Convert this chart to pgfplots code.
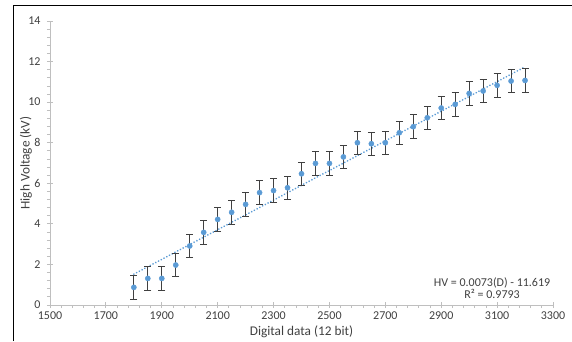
\documentclass[border=0pt]{standalone}
\usepackage{fontspec}
\setmainfont{Carlito}
\usepackage{pgfplots}
\usepackage{pgfplotstable}
\pgfplotsset{compat=1.18}
\definecolor{ptblue}{HTML}{5B9BD5}
\definecolor{axgray}{HTML}{BFBFBF}
\definecolor{lblgray}{HTML}{404040}
\definecolor{errgray}{HTML}{404040}
\pgfplotstableread{
x y e
1800 0.87 0.58
1850 1.31 0.58
1900 1.31 0.58
1950 1.97 0.58
2000 2.91 0.58
2050 3.58 0.58
2100 4.22 0.58
2150 4.57 0.58
2200 4.96 0.58
2250 5.54 0.58
2300 5.64 0.58
2350 5.78 0.58
2400 6.47 0.58
2450 6.98 0.58
2500 6.98 0.58
2550 7.30 0.58
2600 8.00 0.58
2650 7.95 0.58
2700 8.00 0.58
2750 8.49 0.58
2800 8.79 0.58
2850 9.23 0.58
2900 9.71 0.58
2950 9.89 0.58
3000 10.43 0.58
3050 10.55 0.58
3100 10.83 0.58
3150 11.04 0.58
3200 11.07 0.58
}\hvdata
\begin{document}
\begin{tikzpicture}
\useasboundingbox (0pt,0pt) rectangle (572pt,341pt);
\draw[black, line width=1pt] (13pt,0pt) -- (13pt,335.5pt) -- (572pt,335.5pt);
\begin{axis}[
  at={(50pt,36pt)}, anchor=south west,
  scale only axis, width=503pt, height=284pt,
  xmin=1500, xmax=3300, ymin=0, ymax=14,
  xtick={1500,1700,...,3300}, ytick={0,2,...,14},
  minor tick num=4,
  axis lines=left, axis line style={-, draw=axgray, line width=0.8pt},
  tick style={axgray, line width=0.8pt},
  tick align=center, major tick length=6pt, minor tick length=3pt,
  minor y tick style={xshift=-1.5pt}, minor x tick style={yshift=-1.5pt},
  /pgf/number format/assume math mode=true,
  /pgf/number format/1000 sep={},
  ticklabel style={font=\fontsize{12}{14}\selectfont, text=lblgray},
  xticklabel style={yshift=-3pt, inner sep=1pt},
  yticklabel style={xshift=-3pt},
  label style={font=\fontsize{13.3}{15}\selectfont, text=lblgray},
  xlabel={Digital data (12 bit)},
  ylabel={High Voltage (kV)},
  xlabel style={at={(axis description cs:0.5,-0.094)}, anchor=center, inner sep=1pt},
  ylabel style={at={(axis description cs:-0.0477,0.5)}, anchor=center},
  clip=false,
]
\addplot[ptblue, line width=1.8pt, line cap=round, dash pattern=on 0.1pt off 3pt] coordinates {(1800,1.521) (3200,11.741)};
\addplot[only marks, mark=*, mark size=2.6pt, color=ptblue, mark options={fill=ptblue, draw=ptblue},
  error bars/.cd, y dir=both, y explicit,
  error bar style={errgray, line width=0.9pt},
  error mark options={rotate=90, errgray, mark size=3.5pt, line width=0.9pt}]
  table[x=x, y=y, y error=e] {\hvdata};
\node[font=\fontsize{12}{12.6}\selectfont, text=lblgray, align=center] at (axis cs:3082,0.84) {HV = 0.0073(D) - 11.619\\R² = 0.9793};
\end{axis}
\end{tikzpicture}
\end{document}
